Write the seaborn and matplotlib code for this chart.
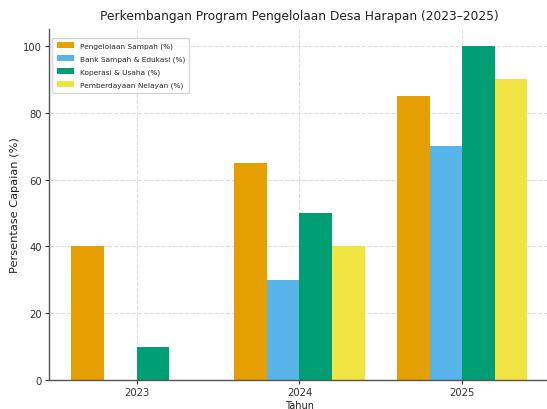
import pandas as pd
import matplotlib
matplotlib.use("Agg")
import matplotlib.pyplot as plt
import seaborn as sns

years = ["2023", "2024", "2025"]
series = ["Pengelolaan Sampah (%)", "Bank Sampah & Edukasi (%)",
          "Koperasi & Usaha (%)", "Pemberdayaan Nelayan (%)"]
pengelolaan = [40, 65, 85]
bank_sampah = [0, 30, 70]
koperasi = [10, 50, 100]
nelayan = [0, 40, 90]
colors = ["#E69F00", "#56B4E9", "#009E73", "#F0E442"]

# long format for seaborn
rows = []
for name, vals in zip(series, [pengelolaan, bank_sampah, koperasi, nelayan]):
    for y, v in zip(years, vals):
        rows.append({"Tahun": y, "Program": name, "Nilai": v})
df = pd.DataFrame(rows)

sns.set_style("whitegrid", {"grid.linestyle": "--", "grid.color": "#dddddd"})
plt.rcParams['font.family'] = ['DejaVu Sans']

fig = plt.figure(figsize=(5.47, 4.10), dpi=100)
ax = fig.add_axes([0.089, 0.070, 0.917, 0.857])

sns.barplot(data=df, x="Tahun", y="Nilai", hue="Program", palette=colors,
            saturation=1, width=0.8, linewidth=0, ax=ax)

ax.set_xlim(-0.54, 2.54)
ax.set_ylim(0, 105)
ax.set_yticks([0, 20, 40, 60, 80, 100])
ax.xaxis.grid(True)
ax.yaxis.grid(True)
ax.set_title("Perkembangan Program Pengelolaan Desa Harapan (2023–2025)",
             fontsize=8.8, color="#222222", pad=7)
ax.set_xlabel("Tahun", fontsize=7, color="#222222", labelpad=2)
ax.set_ylabel("Persentase Capaian (%)", fontsize=8.2, color="#222222", labelpad=2)
ax.tick_params(axis="both", labelsize=7.2, colors="#333333", length=3, width=0.8,
               left=True, bottom=True, pad=2)
for s in ["top", "right"]:
    ax.spines[s].set_visible(False)
for s in ["left", "bottom"]:
    ax.spines[s].set_color("#555555")
    ax.spines[s].set_linewidth(1.0)
ax.set_axisbelow(True)

leg = ax.legend(loc="upper left", fontsize=5.3, frameon=True, title=None,
                handlelength=2.3, handleheight=0.9, borderpad=0.6, labelspacing=0.8,
                bbox_to_anchor=(0.0, 0.985))
leg.get_frame().set_edgecolor("#cccccc")

fig.savefig("out.png", dpi=100)
